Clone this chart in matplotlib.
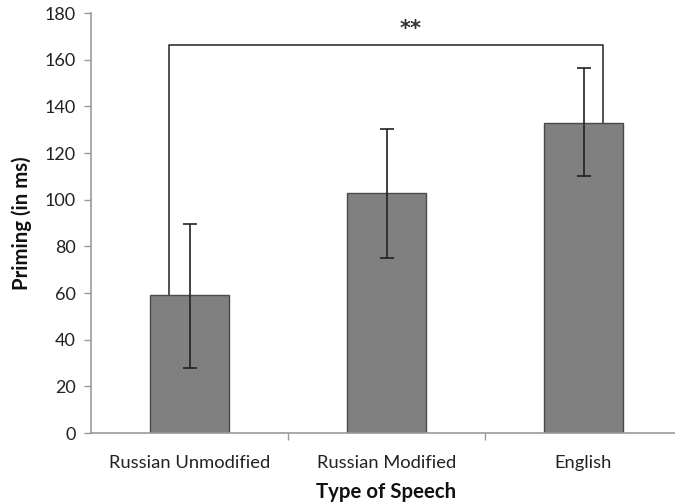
import matplotlib.pyplot as plt
from matplotlib.ticker import FixedLocator

# data
categories = ["Russian Unmodified", "Russian Modified", "English"]
priming = [59, 103, 133]
err_lo = [31, 28, 23]
err_hi = [30.5, 27.5, 23.3]
bracket_top = 166.3
sig_label = "**"

plt.rcParams["font.family"] = ["Lato", "DejaVu Sans"]

fig = plt.figure(figsize=(6.75, 5.03), dpi=100)
ax = fig.add_axes([91 / 675, 70 / 503, 591 / 675, 420 / 503])

x = list(range(len(categories)))
ax.bar(x, priming, width=0.405, color="#808080", edgecolor="#4a4a4a", linewidth=1.0, zorder=2)
ax.errorbar(x, priming, yerr=[err_lo, err_hi], fmt="none", ecolor="#222222",
            elinewidth=1.2, capsize=5, capthick=1.2, zorder=3)

# significance bracket between first and last bar
xl, xr = x[0] - 0.105, x[-1] + 0.1
ax.plot([xl, xl, xr, xr], [priming[0] - 1.5, bracket_top, bracket_top, priming[-1]],
        color="#222222", linewidth=1.1, zorder=1)
ax.text((x[0] + x[-1]) / 2 + 0.12, bracket_top + 2.5, sig_label, ha="center", va="bottom",
        fontsize=15, fontweight="bold", color="#333333", family="DejaVu Sans")

ax.set_xlim(-0.5, 2.5)
ax.set_ylim(0, 180)
ax.set_yticks(range(0, 181, 20))
ax.set_xticks(x)
ax.set_xticklabels(categories)
ax.xaxis.set_minor_locator(FixedLocator([0.5, 1.5]))
ax.tick_params(axis="x", which="major", length=0, pad=16, labelsize=13.2, labelcolor="#222222")
ax.tick_params(axis="x", which="minor", length=5, color="#999999", width=1)
ax.tick_params(axis="y", length=5, color="#999999", width=1, pad=6, labelsize=13, labelcolor="#222222")

for side in ["top", "right"]:
    ax.spines[side].set_visible(False)
for side in ["left", "bottom"]:
    ax.spines[side].set_color("#999999")
    ax.spines[side].set_linewidth(1.2)

ax.set_ylabel("Priming (in ms)", fontsize=14.7, fontweight="bold", labelpad=9, color="#111111")
ax.set_xlabel("Type of Speech", fontsize=14.7, fontweight="bold", labelpad=8, color="#111111")

fig.savefig("out.png", dpi=100)
